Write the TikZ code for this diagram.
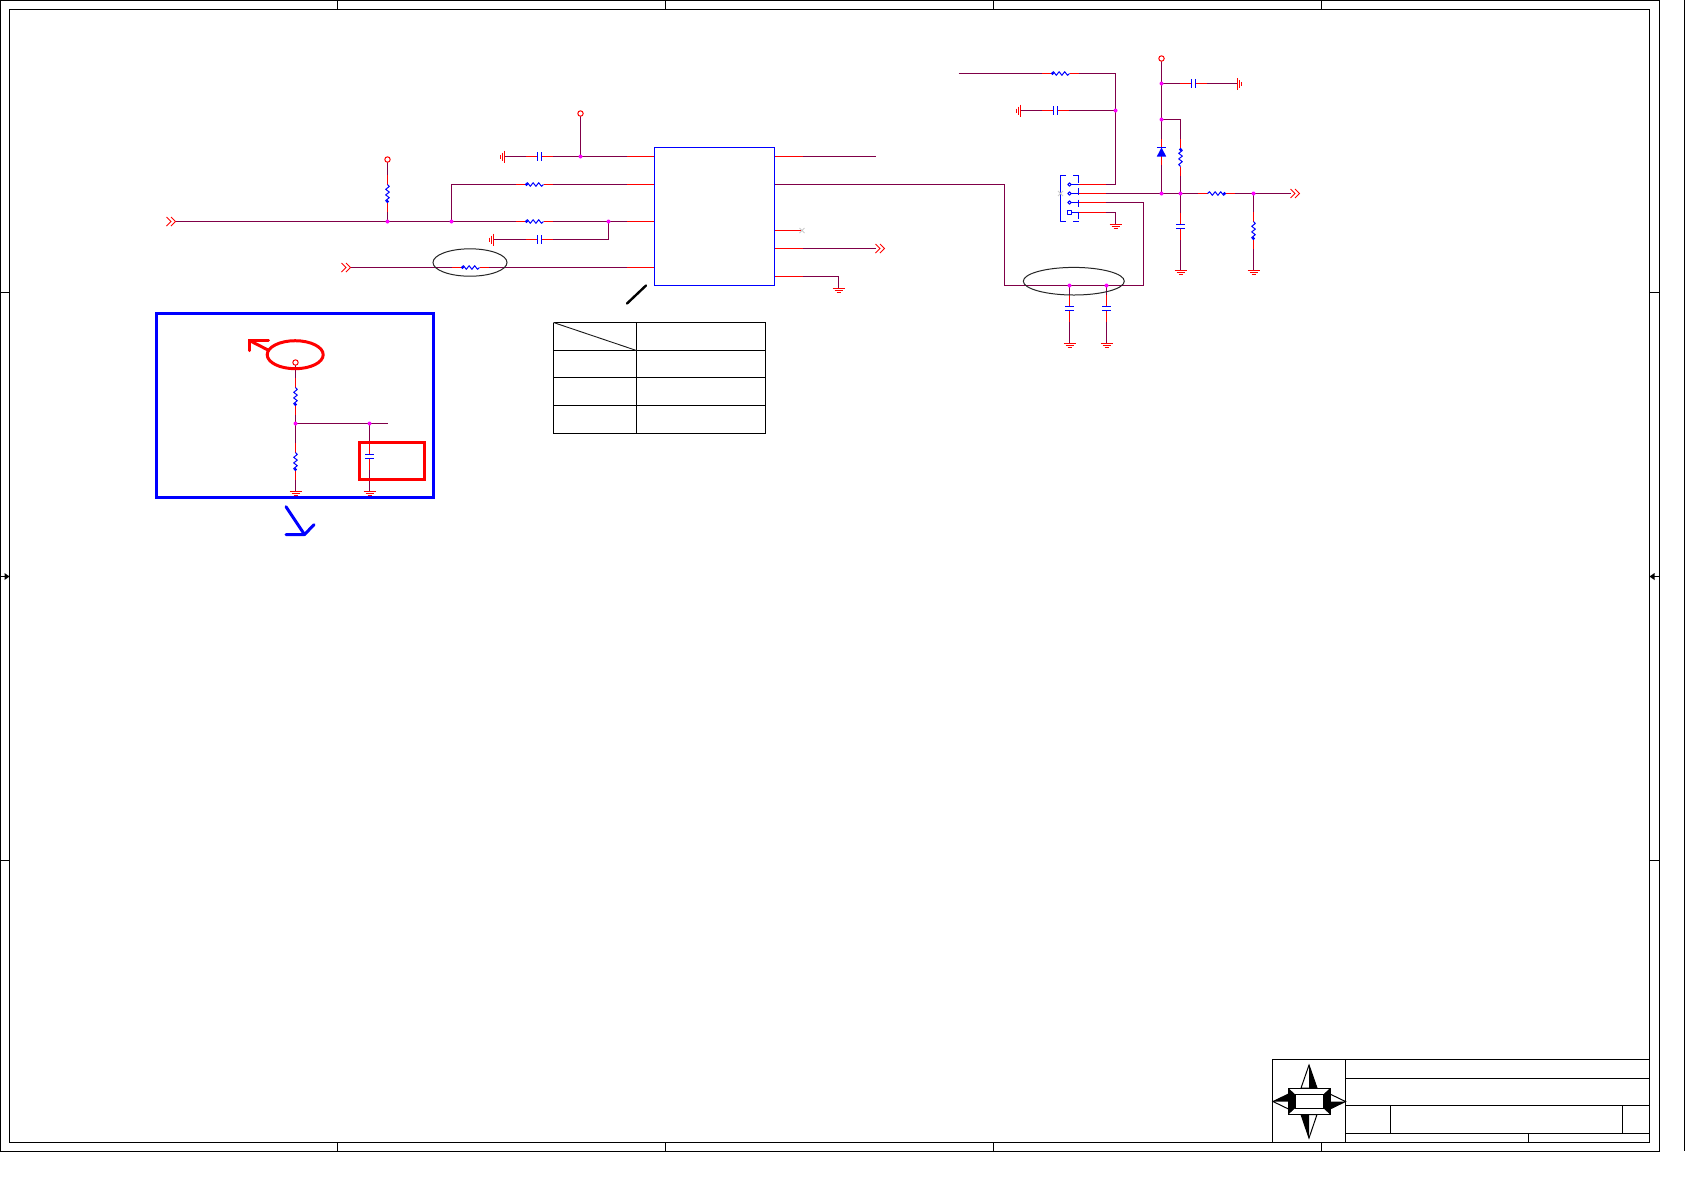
\documentclass[tikz,border=0pt]{standalone}
\usepackage{tikz}
\usetikzlibrary{positioning}
\tikzstyle{sheet} = [x = .5pt, y = -.5pt]
\definecolor{wireColor}{RGB}{128,0,72}
\definecolor{pinColor}{RGB}{255,0,0}
\definecolor{partColor}{RGB}{0,0,255}
\definecolor{junctionColor}{RGB}{255,0,255}
\tikzstyle{frameLine} = [color=black, line width=.5pt]
\tikzstyle{wire} = [color=wireColor, line width=.5pt]
\tikzstyle{pinLine} = [color=pinColor, line width=.5pt]
\tikzstyle{partLine} = [color=partColor, line width=.5pt, line join=round]
\tikzstyle{noteRing} = [color=black!85, line width=.5pt]
\tikzstyle{markRed} = [color=pinColor, line width=1.5pt]
\tikzstyle{markBlue} = [color=partColor, line width=1.5pt]
\tikzstyle{icBox} = [draw=partColor, line width=.5pt, fill=white, inner sep=0pt, minimum width=60pt, minimum height=69pt]
% local frame: part centred on the origin, lying along x
\newcommand{\resistorPart}[3]{
  \begin{scope}[shift={(#1,#2)}, rotate=#3]
    \draw [pinLine] (-18.5,0) -- (18.5,0);
    \fill [white] (-9,-3) rectangle (9,3);
    \draw [partLine] (-9,0) -- (-7,-1.8) -- (-4.2,1.8) -- (-1.4,-1.8) -- (1.4,1.8) -- (4.2,-1.8) -- (7,1.8) -- (9,0);
    \fill [partColor] (-8,0) circle (1.7);
  \end{scope}
}
\newcommand{\capPart}[3]{
  \begin{scope}[shift={(#1,#2)}, rotate=#3]
    \fill [white] (-2,-3) rectangle (2,3);
    \draw [pinLine] (-13.5,0) -- (-2,0) (2,0) -- (13.5,0);
    \draw [partLine, line width=.85pt] (-2,-4.5) -- (-2,4.5);
    \draw [partLine] (2,-4.5) -- (2,4.5);
  \end{scope}
}
\newcommand{\groundPart}[3]{
  \begin{scope}[shift={(#1,#2)}, rotate=#3]
    \draw [pinLine] (-6,0) -- (6,0) (-4,2) -- (4,2) (-2,4) -- (2,4);
  \end{scope}
}
\newcommand{\powerPin}[1]{\draw [pinLine, fill=white] (#1) circle (2.7);}
\newcommand{\pageLink}[2]{
  \draw [pinLine, line width=.5pt] (#1,#2 - 4.5) -- (#1 + 4.5,#2) -- (#1,#2 + 4.5)
    (#1 + 4.5,#2 - 4.5) -- (#1 + 9,#2) -- (#1 + 4.5,#2 + 4.5);
}
\newcommand{\openMark}[2]{\draw [color=black!20, line width=.4pt] (#1 - 2.5,#2 - 2.5) -- (#1 + 2.5,#2 + 2.5) (#1 - 2.5,#2 + 2.5) -- (#1 + 2.5,#2 - 2.5);}
\begin{document}
\begin{tikzpicture}[sheet]
  \useasboundingbox (0,0) rectangle (1685,1191);
  \fill [white] (0,0) rectangle (1685,1191);

  % drawing frame
  \draw [frameLine] (.5,.5) rectangle (1659.5,1151.5);
  \draw [frameLine] (9.5,9.5) rectangle (1649.5,1142.5);
  \draw [frameLine] (1684.5,0) -- (1684.5,1151);
  \foreach \tick in {337.5,665.5,993.5,1321.5} {
    \draw [frameLine] (\tick,.5) -- (\tick,9.5);
    \draw [frameLine] (\tick,1142.5) -- (\tick,1151.5);
  }
  \foreach \tick in {292.5,860.5} {
    \draw [frameLine] (.5,\tick) -- (9.5,\tick);
    \draw [frameLine] (1649.5,\tick) -- (1659.5,\tick);
  }
  \draw [frameLine] (.5,576.5) -- (9.5,576.5);
  \fill [black] (9.5,576.5) -- (4.5,573) -- (4.5,580) -- cycle;
  \draw [frameLine] (1649.5,576.5) -- (1659.5,576.5);
  \fill [black] (1649.5,576.5) -- (1654.5,573) -- (1654.5,580) -- cycle;

  % title block
  \draw [frameLine] (1272.5,1142.5) -- (1272.5,1059.5) -- (1649.5,1059.5);
  \draw [frameLine] (1345.5,1059.5) -- (1345.5,1142.5);
  \draw [frameLine] (1345.5,1078.5) -- (1649.5,1078.5);
  \draw [frameLine] (1345.5,1105.5) -- (1649.5,1105.5);
  \draw [frameLine] (1345.5,1133.5) -- (1649.5,1133.5);
  \draw [frameLine] (1390.5,1105.5) -- (1390.5,1133.5);
  \draw [frameLine] (1622.5,1105.5) -- (1622.5,1133.5);
  \draw [frameLine] (1528.5,1133.5) -- (1528.5,1142.5);

  % compass
  \draw [frameLine, fill=white] (1309,1065) -- (1317,1088) -- (1301,1088) -- cycle;
  \fill [black] (1309,1065) -- (1317,1088) -- (1309,1088) -- cycle;
  \draw [frameLine, fill=white] (1309,1138) -- (1301,1114.5) -- (1317,1114.5) -- cycle;
  \fill [black] (1309,1138) -- (1301,1114.5) -- (1309,1114.5) -- cycle;
  \draw [frameLine, fill=white] (1273,1101.5) -- (1288.5,1094) -- (1288.5,1109) -- cycle;
  \fill [black] (1273,1101.5) -- (1288.5,1094) -- (1288.5,1101.5) -- cycle;
  \draw [frameLine, fill=white] (1345.5,1101.5) -- (1330,1094) -- (1330,1109) -- cycle;
  \fill [black] (1345.5,1101.5) -- (1330,1109) -- (1330,1101.5) -- cycle;
  \fill [black] (1288.5,1088) rectangle (1330,1114.5);
  \fill [white] (1288.5,1088) -- (1330,1088) -- (1323.5,1094) -- (1295,1094) -- cycle;
  \fill [white] (1288.5,1114.5) -- (1330,1114.5) -- (1323.5,1108.5) -- (1295,1108.5) -- cycle;
  \draw [frameLine] (1288.5,1088) rectangle (1330,1114.5);
  \draw [frameLine, fill=white] (1295,1094) rectangle (1323.5,1108.5);

  % regulator block
  \node [icBox] (ic) at (714.5,216.5) {};
  \coordinate (icA) at (ic.west |- 0,156.5);
  \coordinate (icB) at (ic.west |- 0,184.5);
  \coordinate (icC) at (ic.west |- 0,221.5);
  \coordinate (icD) at (ic.west |- 0,267.5);
  \coordinate (icE) at (ic.east |- 0,156.5);
  \coordinate (icF) at (ic.east |- 0,184.5);
  \coordinate (icG) at (ic.east |- 0,230.5);
  \coordinate (icH) at (ic.east |- 0,248.5);
  \coordinate (icI) at (ic.east |- 0,276.5);

  % left hand nets
  \coordinate (linkA) at (175.5,221.5);
  \coordinate (linkB) at (350.5,267.5);
  \coordinate (supplyA) at (387.5,159.5);
  \coordinate (supplyB) at (580.5,113.5);
  \coordinate (nodeA) at (387.5,221.5);
  \coordinate (nodeB) at (451.5,221.5);
  \coordinate (nodeC) at (608.5,221.5);
  \coordinate (nodeD) at (580.5,156.5);
  \coordinate (gndA) at (504.5,156.5);
  \coordinate (gndB) at (493.5,239.5);
  \draw [wire] (linkA) -- (icC);
  \draw [wire] (linkB) -- (icD);
  \draw [wire] (supplyA) -- (nodeA);
  \draw [wire] (supplyB) -- (nodeD);
  \draw [wire] (gndA) -- (icA);
  \draw [wire] (nodeB) |- (icB);
  \draw [wire] (gndB) -| (nodeC);
  \foreach \pin in {icA,icB,icC,icD} {\draw [pinLine] (\pin) -- +(-27.5,0);}
  \pageLink{166.5}{221.5}
  \pageLink{341.5}{267.5}
  \powerPin{supplyA}
  \powerPin{supplyB}
  \resistorPart{534.5}{184.5}{0}
  \resistorPart{534.5}{221.5}{0}
  \resistorPart{470.5}{267.5}{0}
  \resistorPart{387.5}{193.5}{90}
  \capPart{539.5}{156.5}{0}
  \capPart{539.5}{239.5}{0}
  \groundPart{504.5}{156.5}{-90}
  \groundPart{493.5}{239.5}{-90}
  \draw [noteRing] (470,262.5) ellipse (37 and 13.7);
  \draw [color=black, line width=1.2pt, line cap=round] (627,303.5) -- (646,285.5);

  % right side of the block
  \coordinate (linkC) at (875.5,248.5);
  \coordinate (linkD) at (875.5,156.5);
  \coordinate (gndC) at (838.5,288.5);
  \draw [wire] (icE) -- (linkD);
  \draw [wire] (icH) -- (linkC);
  \draw [wire] (icI) -| (gndC);
  \foreach \pin in {icE,icF,icG,icH,icI} {\draw [pinLine] (\pin) -- +(27.5,0);}
  \openMark{802}{230.5}
  \pageLink{875.5}{248.5}
  \groundPart{838.5}{288.5}{0}

  % table
  \foreach \rowY in {322.5,350.5,377.5,405.5,433.5} {
    \draw [frameLine] (553.5,\rowY) -- (765.5,\rowY);
  }
  \foreach \colX in {553.5,636.5,765.5} {
    \draw [frameLine] (\colX,322.5) -- (\colX,433.5);
  }
  \draw [color=black!90, line width=.45pt] (553.5,322.5) -- (636.5,350.5);

  % inset divider
  \coordinate (supplyC) at (295.5,362.5);
  \coordinate (nodeE) at (295.5,423.5);
  \coordinate (nodeF) at (369.5,423.5);
  \coordinate (endE) at (388,423.5);
  \coordinate (gndD) at (295.5,491.5);
  \coordinate (gndE) at (369.5,491.5);
  \draw [wire] (supplyC) -- (gndD);
  \draw [wire] (nodeE) -- (endE);
  \draw [wire] (nodeF) -- (gndE);
  \powerPin{supplyC}
  \resistorPart{295.5}{396.5}{90}
  \resistorPart{295.5}{461.5}{90}
  \capPart{369.5}{456.5}{90}
  \groundPart{295.5}{491.5}{0}
  \groundPart{369.5}{491.5}{0}
  \draw [markBlue] (156.5,313.5) rectangle (433.5,497.5);
  \draw [markRed] (295.2,354.7) ellipse (28 and 14);
  \draw [markRed] (268,350) -- (249.5,340.5);
  \draw [markRed, line cap=round] (268.5,340.5) -- (249.5,340.5) -- (249.5,350.5);
  \draw [markRed] (359.5,442.5) rectangle (424.5,479.5);
  \draw [markBlue, line cap=round, line join=round] (286,506.7) -- (304.5,534.5) -- (286,534.5);
  \draw [markBlue, line cap=round] (304.5,534.5) -- (314,524.7);

  % output switch nets
  \coordinate (startF) at (958.5,73.5);
  \coordinate (cornerF) at (1115.5,73.5);
  \coordinate (nodeG) at (1115.5,110.5);
  \coordinate (gndF) at (1020.5,110.5);
  \coordinate (swA) at (1078.5,184.5);
  \coordinate (swB) at (1078.5,193.5);
  \coordinate (swC) at (1078.5,202.5);
  \coordinate (swD) at (1078.5,212.5);
  \coordinate (nodeH) at (1069.5,285.5);
  \coordinate (nodeI) at (1106.5,285.5);
  \coordinate (gndG) at (1069.5,343.5);
  \coordinate (gndH) at (1106.5,343.5);
  \coordinate (gndI) at (1115.5,224.5);
  \coordinate (supplyD) at (1161.5,58.5);
  \coordinate (nodeJ) at (1161.5,83.5);
  \coordinate (nodeK) at (1161.5,119.5);
  \coordinate (nodeL) at (1161.5,193.5);
  \coordinate (nodeM) at (1180.5,193.5);
  \coordinate (nodeN) at (1253.5,193.5);
  \coordinate (gndJ) at (1237.5,83.5);
  \coordinate (gndK) at (1180.5,270.5);
  \coordinate (gndL) at (1253.5,270.5);
  \coordinate (linkE) at (1290.5,193.5);
  \draw [wire] (startF) -- (cornerF) |- (swA);
  \draw [wire] (gndF) -- (nodeG);
  \draw [wire] (icF) -| (1004.5,285.5) -| (1143.5,202.5) -- (swC);
  \draw [wire] (swD) -| (gndI);
  \draw [wire] (swB) -- (linkE);
  \draw [wire] (supplyD) -- (nodeL);
  \draw [wire] (nodeJ) -- (gndJ);
  \draw [wire] (nodeK) -| (nodeM);
  \draw [wire] (nodeM) -- (gndK);
  \draw [wire] (nodeN) -- (gndL);
  \draw [wire] (nodeH) -- (gndG);
  \draw [wire] (nodeI) -- (gndH);
  \foreach \pin in {swA,swB,swC,swD} {\draw [pinLine] (\pin) -- +(27.5,0);}
  \resistorPart{1060.5}{73.5}{0}
  \resistorPart{1216.5}{193.5}{180}
  \resistorPart{1180.5}{157.5}{-90}
  \resistorPart{1253.5}{230.5}{90}
  \capPart{1055.5}{110.5}{0}
  \capPart{1193.5}{83.5}{0}
  \capPart{1180.5}{226.5}{90}
  \capPart{1069.5}{308.5}{90}
  \capPart{1106.5}{308.5}{90}
  \groundPart{1020.5}{110.5}{-90}
  \groundPart{1237.5}{83.5}{90}
  \groundPart{1115.5}{224.5}{0}
  \groundPart{1180.5}{270.5}{0}
  \groundPart{1253.5}{270.5}{0}
  \groundPart{1069.5}{343.5}{0}
  \groundPart{1106.5}{343.5}{0}
  \pageLink{1290.5}{193.5}
  \powerPin{supplyD}

  % diode
  \draw [pinLine] (1161.5,139) -- (1161.5,147.5) (1161.5,156) -- (1161.5,165);
  \fill [partColor] (1161.5,147.5) -- (1166.2,156.5) -- (1156.8,156.5) -- cycle;
  \draw [partLine] (1156.8,147.5) -- (1166.2,147.5);

  % switch body
  \draw [partLine] (1066,175.5) -- (1060.5,175.5) -- (1060.5,221.5) -- (1066,221.5);
  \draw [partLine] (1073,175.5) -- (1078.5,175.5) (1073,221.5) -- (1078.5,221.5);
  \draw [partLine, dash pattern=on 3.5pt off 2.5pt] (1078.5,175.5) -- (1078.5,221.5);
  \foreach \pinY in {184.5,193.5,202.5} {
    \draw [partLine] (1071.2,\pinY) -- (1078.5,\pinY);
    \draw [partLine, fill=white] (1069.5,\pinY) circle (1.7);
  }
  \draw [partLine] (1071.8,212.5) -- (1078.5,212.5);
  \draw [partLine, fill=white] (1067,210.5) rectangle (1071.5,214.5);
  \openMark{1060.5}{193.5}
  \draw [noteRing] (1073.8,281.2) ellipse (50.5 and 13.8);

  % junctions last, on top of everything
  \foreach \joint in {nodeA,nodeB,nodeC,nodeD,nodeE,nodeF,nodeG,nodeH,nodeI,nodeJ,nodeK,nodeL,nodeM,nodeN} {
    \fill [junctionColor] (\joint) circle (2);
  }
\end{tikzpicture}
\end{document}
